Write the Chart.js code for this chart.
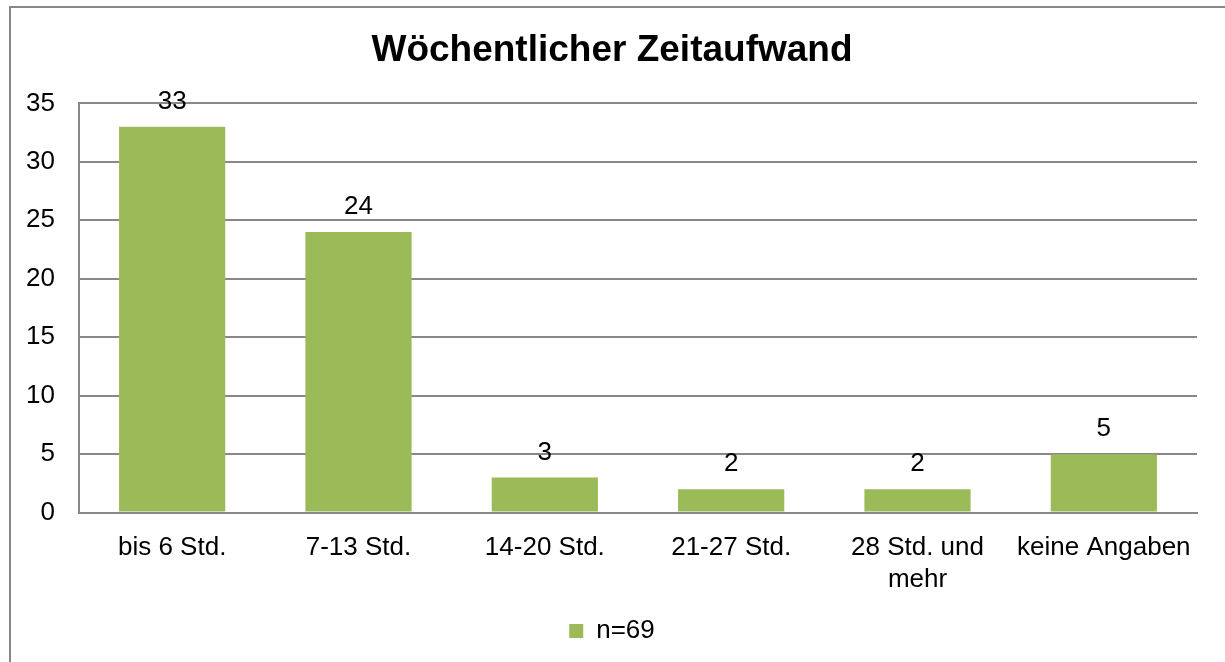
<!DOCTYPE html>
<html>
<head>
<meta charset="utf-8">
<script src="https://cdn.jsdelivr.net/npm/chart.js@4"></script>
<style>
    html, body { margin: 0; padding: 0; background: #fff; }
    #marco { width: 1225px; height: 662px; position: relative; }
</style>
</head>
<body>
<div id="marco"><canvas id="zeitaufwand"></canvas></div>
<script>
// Daten aus dem Diagramm
const kategorien = ["bis 6 Std.", "7-13 Std.", "14-20 Std.", "21-27 Std.", ["28 Std. und", "mehr"], "keine Angaben"];
const antworten = [33, 24, 3, 2, 2, 5];
const legende = "n=69";
const yMin = 0;
const yMax = 35;
const ySchritt = 5;

const grau = "#888888";
const gruen = "#9BBB59";

Chart.defaults.font.family = "'Liberation Sans', Arial, sans-serif";
Chart.defaults.color = "#000";

// Rahmen links und oben wie im Original
const rahmen = {
    id: "rahmen",
    beforeDraw(chart) {
        const ctx = chart.ctx;
        ctx.save();
        ctx.strokeStyle = grau;
        ctx.lineWidth = 2;
        ctx.beginPath();
        ctx.moveTo(10, chart.height);
        ctx.lineTo(10, 7);
        ctx.lineTo(chart.width, 7);
        ctx.stroke();
        ctx.restore();
    },
};

// Werte über den Balken
const werte = {
    id: "werte",
    afterDatasetsDraw(chart) {
        const ctx = chart.ctx;
        ctx.save();
        ctx.font = "26px 'Liberation Sans', Arial, sans-serif";
        ctx.fillStyle = "#000";
        ctx.textAlign = "center";
        ctx.textBaseline = "alphabetic";
        chart.getDatasetMeta(0).data.forEach((balken, i) => {
            ctx.fillText(chart.data.datasets[0].data[i], balken.x, balken.y - 18);
        });
        ctx.restore();
    },
};

new Chart(document.getElementById("zeitaufwand"), {
    type: "bar",
    data: {
        labels: kategorien,
        datasets: [
            {
                label: legende,
                data: antworten,
                backgroundColor: gruen,
                categoryPercentage: 1,
                barPercentage: 0.57,
            },
        ],
    },
    options: {
        responsive: true,
        maintainAspectRatio: false,
        animation: false,
        layout: {
            padding: { left: 27, right: 28, top: 0, bottom: 8 },
        },
        plugins: {
            title: {
                display: true,
                text: "Wöchentlicher Zeitaufwand",
                color: "#000",
                font: { size: 37, weight: "bold" },
                padding: { top: 29, bottom: 30 },
            },
            legend: {
                position: "bottom",
                labels: {
                    boxWidth: 14,
                    boxHeight: 14,
                    color: "#000",
                    font: { size: 26 },
                    padding: 11,
                },
            },
            tooltip: { enabled: false },
        },
        scales: {
            x: {
                grid: { display: false },
                border: { display: true, color: grau, width: 2 },
                ticks: {
                    font: { size: 26 },
                    padding: 12,
                    maxRotation: 0,
                    color: "#000",
                },
            },
            y: {
                min: yMin,
                max: yMax,
                grid: { color: grau, lineWidth: 2, drawTicks: false },
                border: { display: true, color: grau, width: 2 },
                ticks: {
                    stepSize: ySchritt,
                    font: { size: 26 },
                    padding: 24,
                    color: "#000",
                },
                afterFit(skala) {
                    skala.width = 52;
                },
            },
        },
    },
    plugins: [rahmen, werte],
});
</script>
</body>
</html>
